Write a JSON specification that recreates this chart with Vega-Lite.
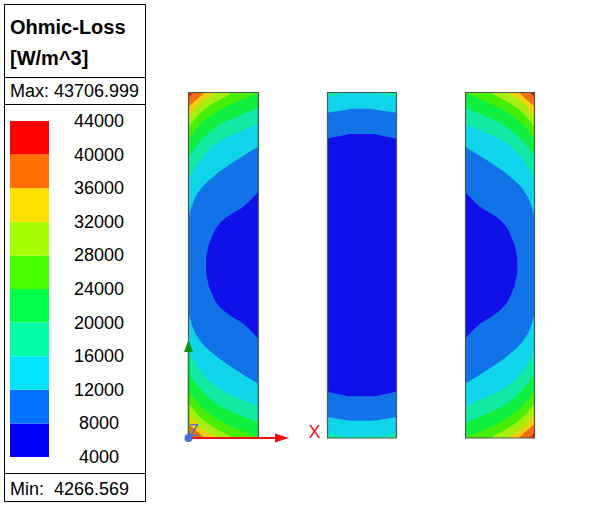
{
  "$schema": "https://vega.github.io/schema/vega-lite/v6.json",
  "width": 590,
  "height": 512,
  "padding": 0,
  "autosize": {"type": "fit", "contains": "padding"},
  "background": "white",
  "config": {"view": {"stroke": null}},
  "datasets": {
    "rods": [
      {"rod": "left", "level": "40000", "x": 188.5, "y": 92.3, "y2": 438.1},
      {"rod": "left", "level": "40000", "x": 258.3, "y": 92.3, "y2": 438.1},
      {"rod": "left", "level": "36000", "x": 188.5, "y": 98.3, "y2": 432.1},
      {"rod": "left", "level": "36000", "x": 195, "y": 92.3, "y2": 438.1},
      {"rod": "left", "level": "36000", "x": 258.3, "y": 92.3, "y2": 438.1},
      {"rod": "left", "level": "32000", "x": 188.5, "y": 106.7, "y2": 423.7},
      {"rod": "left", "level": "32000", "x": 197, "y": 99.5, "y2": 430.9},
      {"rod": "left", "level": "32000", "x": 206.7, "y": 92.3, "y2": 438.1},
      {"rod": "left", "level": "32000", "x": 258.3, "y": 92.3, "y2": 438.1},
      {"rod": "left", "level": "28000", "x": 188.5, "y": 116.7, "y2": 413.7},
      {"rod": "left", "level": "28000", "x": 200, "y": 103.3, "y2": 427.1},
      {"rod": "left", "level": "28000", "x": 209, "y": 97, "y2": 433.4},
      {"rod": "left", "level": "28000", "x": 219.3, "y": 92.3, "y2": 438.1},
      {"rod": "left", "level": "28000", "x": 258.3, "y": 92.3, "y2": 438.1},
      {"rod": "left", "level": "24000", "x": 188.5, "y": 127.3, "y2": 403.1},
      {"rod": "left", "level": "24000", "x": 200, "y": 113.3, "y2": 417.1},
      {"rod": "left", "level": "24000", "x": 213.3, "y": 103.3, "y2": 427.1},
      {"rod": "left", "level": "24000", "x": 225, "y": 97, "y2": 433.4},
      {"rod": "left", "level": "24000", "x": 236, "y": 92.3, "y2": 438.1},
      {"rod": "left", "level": "24000", "x": 258.3, "y": 92.3, "y2": 438.1},
      {"rod": "left", "level": "20000", "x": 188.5, "y": 140, "y2": 390.4},
      {"rod": "left", "level": "20000", "x": 200, "y": 125, "y2": 405.4},
      {"rod": "left", "level": "20000", "x": 216.7, "y": 111.7, "y2": 418.7},
      {"rod": "left", "level": "20000", "x": 236.7, "y": 101.7, "y2": 428.7},
      {"rod": "left", "level": "20000", "x": 258.3, "y": 93.3, "y2": 437.1},
      {"rod": "left", "level": "16000", "x": 188.5, "y": 156.7, "y2": 373.7},
      {"rod": "left", "level": "16000", "x": 200, "y": 141.7, "y2": 388.7},
      {"rod": "left", "level": "16000", "x": 216.7, "y": 126.7, "y2": 403.7},
      {"rod": "left", "level": "16000", "x": 236.7, "y": 116.7, "y2": 413.7},
      {"rod": "left", "level": "16000", "x": 258.3, "y": 107.7, "y2": 422.7},
      {"rod": "left", "level": "12000", "x": 188.5, "y": 179, "y2": 351.4},
      {"rod": "left", "level": "12000", "x": 200, "y": 160, "y2": 370.4},
      {"rod": "left", "level": "12000", "x": 216.7, "y": 143.3, "y2": 387.1},
      {"rod": "left", "level": "12000", "x": 236.7, "y": 133.3, "y2": 397.1},
      {"rod": "left", "level": "12000", "x": 258.3, "y": 124, "y2": 406.4},
      {"rod": "left", "level": "8000", "x": 188.5, "y": 217.3, "y2": 313.1},
      {"rod": "left", "level": "8000", "x": 193.3, "y": 201.7, "y2": 328.7},
      {"rod": "left", "level": "8000", "x": 200, "y": 190, "y2": 340.4},
      {"rod": "left", "level": "8000", "x": 213.3, "y": 176.7, "y2": 353.7},
      {"rod": "left", "level": "8000", "x": 236.7, "y": 160, "y2": 370.4},
      {"rod": "left", "level": "8000", "x": 258.3, "y": 146.7, "y2": 383.7},
      {"rod": "left", "level": "4000", "x": 206, "y": 265.2, "y2": 265.2},
      {"rod": "left", "level": "4000", "x": 206.1, "y": 258, "y2": 272.4},
      {"rod": "left", "level": "4000", "x": 207.3, "y": 251.7, "y2": 278.7},
      {"rod": "left", "level": "4000", "x": 208.7, "y": 245, "y2": 285.4},
      {"rod": "left", "level": "4000", "x": 210.7, "y": 240, "y2": 290.4},
      {"rod": "left", "level": "4000", "x": 215, "y": 230, "y2": 300.4},
      {"rod": "left", "level": "4000", "x": 220, "y": 223.3, "y2": 307.1},
      {"rod": "left", "level": "4000", "x": 230, "y": 215, "y2": 315.4},
      {"rod": "left", "level": "4000", "x": 243.3, "y": 206.7, "y2": 323.7},
      {"rod": "left", "level": "4000", "x": 258.3, "y": 191.7, "y2": 338.7},

      {"rod": "middle", "level": "16000", "x": 327.3, "y": 92.3, "y2": 438.1},
      {"rod": "middle", "level": "16000", "x": 396.3, "y": 92.3, "y2": 438.1},
      {"rod": "middle", "level": "12000", "x": 327.3, "y": 97.5, "y2": 432.9},
      {"rod": "middle", "level": "12000", "x": 335, "y": 95, "y2": 435},
      {"rod": "middle", "level": "12000", "x": 345, "y": 93.2, "y2": 436.5},
      {"rod": "middle", "level": "12000", "x": 378, "y": 93.2, "y2": 436.5},
      {"rod": "middle", "level": "12000", "x": 388, "y": 95, "y2": 435},
      {"rod": "middle", "level": "12000", "x": 396.3, "y": 97.5, "y2": 432.9},
      {"rod": "middle", "level": "8000", "x": 327.3, "y": 112.7, "y2": 417},
      {"rod": "middle", "level": "8000", "x": 335, "y": 111.5, "y2": 418.5},
      {"rod": "middle", "level": "8000", "x": 345, "y": 110, "y2": 420},
      {"rod": "middle", "level": "8000", "x": 352, "y": 108.7, "y2": 420.8},
      {"rod": "middle", "level": "8000", "x": 371, "y": 108.7, "y2": 420.8},
      {"rod": "middle", "level": "8000", "x": 378, "y": 110, "y2": 420},
      {"rod": "middle", "level": "8000", "x": 388, "y": 111.5, "y2": 418.5},
      {"rod": "middle", "level": "8000", "x": 396.3, "y": 112.7, "y2": 417},
      {"rod": "middle", "level": "4000", "x": 327.3, "y": 139, "y2": 391.5},
      {"rod": "middle", "level": "4000", "x": 333, "y": 137.3, "y2": 393},
      {"rod": "middle", "level": "4000", "x": 342, "y": 135.7, "y2": 394.7},
      {"rod": "middle", "level": "4000", "x": 350, "y": 134, "y2": 396.3},
      {"rod": "middle", "level": "4000", "x": 373, "y": 134, "y2": 396.3},
      {"rod": "middle", "level": "4000", "x": 382, "y": 135.7, "y2": 394.7},
      {"rod": "middle", "level": "4000", "x": 390, "y": 137.3, "y2": 393},
      {"rod": "middle", "level": "4000", "x": 396.3, "y": 139, "y2": 391.5},

      {"rod": "right", "level": "40000", "x": 534.8, "y": 92.3, "y2": 438.1},
      {"rod": "right", "level": "40000", "x": 465, "y": 92.3, "y2": 438.1},
      {"rod": "right", "level": "36000", "x": 534.8, "y": 98.3, "y2": 432.1},
      {"rod": "right", "level": "36000", "x": 528.3, "y": 92.3, "y2": 438.1},
      {"rod": "right", "level": "36000", "x": 465, "y": 92.3, "y2": 438.1},
      {"rod": "right", "level": "32000", "x": 534.8, "y": 106.7, "y2": 423.7},
      {"rod": "right", "level": "32000", "x": 526.3, "y": 99.5, "y2": 430.9},
      {"rod": "right", "level": "32000", "x": 516.6, "y": 92.3, "y2": 438.1},
      {"rod": "right", "level": "32000", "x": 465, "y": 92.3, "y2": 438.1},
      {"rod": "right", "level": "28000", "x": 534.8, "y": 116.7, "y2": 413.7},
      {"rod": "right", "level": "28000", "x": 523.3, "y": 103.3, "y2": 427.1},
      {"rod": "right", "level": "28000", "x": 514.3, "y": 97, "y2": 433.4},
      {"rod": "right", "level": "28000", "x": 504, "y": 92.3, "y2": 438.1},
      {"rod": "right", "level": "28000", "x": 465, "y": 92.3, "y2": 438.1},
      {"rod": "right", "level": "24000", "x": 534.8, "y": 127.3, "y2": 403.1},
      {"rod": "right", "level": "24000", "x": 523.3, "y": 113.3, "y2": 417.1},
      {"rod": "right", "level": "24000", "x": 510, "y": 103.3, "y2": 427.1},
      {"rod": "right", "level": "24000", "x": 498.3, "y": 97, "y2": 433.4},
      {"rod": "right", "level": "24000", "x": 487.3, "y": 92.3, "y2": 438.1},
      {"rod": "right", "level": "24000", "x": 465, "y": 92.3, "y2": 438.1},
      {"rod": "right", "level": "20000", "x": 534.8, "y": 140, "y2": 390.4},
      {"rod": "right", "level": "20000", "x": 523.3, "y": 125, "y2": 405.4},
      {"rod": "right", "level": "20000", "x": 506.6, "y": 111.7, "y2": 418.7},
      {"rod": "right", "level": "20000", "x": 486.6, "y": 101.7, "y2": 428.7},
      {"rod": "right", "level": "20000", "x": 465, "y": 93.3, "y2": 437.1},
      {"rod": "right", "level": "16000", "x": 534.8, "y": 156.7, "y2": 373.7},
      {"rod": "right", "level": "16000", "x": 523.3, "y": 141.7, "y2": 388.7},
      {"rod": "right", "level": "16000", "x": 506.6, "y": 126.7, "y2": 403.7},
      {"rod": "right", "level": "16000", "x": 486.6, "y": 116.7, "y2": 413.7},
      {"rod": "right", "level": "16000", "x": 465, "y": 107.7, "y2": 422.7},
      {"rod": "right", "level": "12000", "x": 534.8, "y": 179, "y2": 351.4},
      {"rod": "right", "level": "12000", "x": 523.3, "y": 160, "y2": 370.4},
      {"rod": "right", "level": "12000", "x": 506.6, "y": 143.3, "y2": 387.1},
      {"rod": "right", "level": "12000", "x": 486.6, "y": 133.3, "y2": 397.1},
      {"rod": "right", "level": "12000", "x": 465, "y": 124, "y2": 406.4},
      {"rod": "right", "level": "8000", "x": 534.8, "y": 217.3, "y2": 313.1},
      {"rod": "right", "level": "8000", "x": 530, "y": 201.7, "y2": 328.7},
      {"rod": "right", "level": "8000", "x": 523.3, "y": 190, "y2": 340.4},
      {"rod": "right", "level": "8000", "x": 510, "y": 176.7, "y2": 353.7},
      {"rod": "right", "level": "8000", "x": 486.6, "y": 160, "y2": 370.4},
      {"rod": "right", "level": "8000", "x": 465, "y": 146.7, "y2": 383.7},
      {"rod": "right", "level": "4000", "x": 517.3, "y": 265.2, "y2": 265.2},
      {"rod": "right", "level": "4000", "x": 517.2, "y": 258, "y2": 272.4},
      {"rod": "right", "level": "4000", "x": 516, "y": 251.7, "y2": 278.7},
      {"rod": "right", "level": "4000", "x": 514.6, "y": 245, "y2": 285.4},
      {"rod": "right", "level": "4000", "x": 512.6, "y": 240, "y2": 290.4},
      {"rod": "right", "level": "4000", "x": 508.3, "y": 230, "y2": 300.4},
      {"rod": "right", "level": "4000", "x": 503.3, "y": 223.3, "y2": 307.1},
      {"rod": "right", "level": "4000", "x": 493.3, "y": 215, "y2": 315.4},
      {"rod": "right", "level": "4000", "x": 480, "y": 206.7, "y2": 323.7},
      {"rod": "right", "level": "4000", "x": 465, "y": 191.7, "y2": 338.7}
    ],
    "frames": [
      {"x": 188.5, "x2": 258.3, "y": 92.5, "y2": 438},
      {"x": 327.5, "x2": 396.5, "y": 92.5, "y2": 438},
      {"x": 465.5, "x2": 534.5, "y": 92.5, "y2": 438}
    ],
    "legendBands": [
      {"level": "4000", "low": 4000, "high": 8000},
      {"level": "8000", "low": 8000, "high": 12000},
      {"level": "12000", "low": 12000, "high": 16000},
      {"level": "16000", "low": 16000, "high": 20000},
      {"level": "20000", "low": 20000, "high": 24000},
      {"level": "24000", "low": 24000, "high": 28000},
      {"level": "28000", "low": 28000, "high": 32000},
      {"level": "32000", "low": 32000, "high": 36000},
      {"level": "36000", "low": 36000, "high": 40000},
      {"level": "40000", "low": 40000, "high": 44000}
    ],
    "legendLabels": [
      {"value": 4000}, {"value": 8000}, {"value": 12000}, {"value": 16000},
      {"value": 20000}, {"value": 24000}, {"value": 28000}, {"value": 32000},
      {"value": 36000}, {"value": 40000}, {"value": 44000}
    ]
  },
  "encoding": {
    "x": {"field": "x", "type": "quantitative", "axis": null, "scale": {"domain": [0, 590], "nice": false, "zero": false}},
    "y": {"field": "y", "type": "quantitative", "axis": null, "scale": {"domain": [512, 0], "nice": false, "zero": false}}
  },
  "layer": [
    {
      "data": {"name": "rods"},
      "mark": {"type": "area", "interpolate": "monotone", "stroke": null},
      "encoding": {
        "y2": {"field": "y2"},
        "detail": {"field": "rod"},
        "color": {
          "field": "level",
          "type": "nominal",
          "legend": null,
          "scale": {
            "domain": ["4000", "8000", "12000", "16000", "20000", "24000", "28000", "32000", "36000", "40000"],
            "range": ["#1010e8", "#1272e8", "#10d5ea", "#10eaa2", "#10ee40", "#46ee08", "#a6ee10", "#eed010", "#ee7010", "#ee1010"]
          }
        }
      }
    },
    {
      "data": {"name": "frames"},
      "mark": {"type": "rect", "fill": null, "stroke": "#4a5a50", "strokeWidth": 1.2},
      "encoding": {"x2": {"field": "x2"}, "y2": {"field": "y2"}}
    },
    {
      "data": {"values": [{"x": 188.5, "y": 438, "y2": 350}]},
      "mark": {"type": "rule", "color": "#0b930b", "strokeWidth": 1.4},
      "encoding": {"y2": {"field": "y2"}}
    },
    {
      "data": {"values": [{"x": 188.5, "y": 346}]},
      "mark": {"type": "point", "shape": "M -0.75 1 L 0 -1 L 0.75 1 Z", "filled": true, "color": "#0b930b", "size": 144, "opacity": 1}
    },
    {
      "data": {"values": [{"x": 189, "x2": 278, "y": 438}]},
      "mark": {"type": "rule", "color": "#f01010", "strokeWidth": 2},
      "encoding": {"x2": {"field": "x2"}}
    },
    {
      "data": {"values": [{"x": 282, "y": 438}]},
      "mark": {"type": "point", "shape": "M -1 -0.65 L 1 0 L -1 0.65 Z", "filled": true, "color": "#f01010", "size": 196, "opacity": 1}
    },
    {
      "data": {"values": [{"x": 188.5, "y": 438}]},
      "mark": {"type": "circle", "color": "#4a6ee0", "size": 64, "opacity": 1}
    },
    {
      "data": {"values": [{"x": 189, "y": 436, "text": "Z"}]},
      "mark": {"type": "text", "align": "left", "baseline": "alphabetic", "font": "Liberation Sans", "fontSize": 16, "color": "#4a6ee0"},
      "encoding": {"text": {"field": "text"}}
    },
    {
      "data": {"values": [{"x": 308.5, "y": 438, "text": "X"}]},
      "mark": {"type": "text", "align": "left", "baseline": "alphabetic", "font": "Liberation Sans", "fontSize": 18, "color": "#f01010"},
      "encoding": {"text": {"field": "text"}}
    },
    {
      "data": {"values": [{"x": 4.5, "x2": 145.5, "y": 4.5, "y2": 501.5}]},
      "mark": {"type": "rect", "fill": null, "stroke": "black", "strokeWidth": 1},
      "encoding": {"x2": {"field": "x2"}, "y2": {"field": "y2"}}
    },
    {
      "data": {"values": [{"x": 4.5, "x2": 145.5, "y": 77.5}, {"x": 4.5, "x2": 145.5, "y": 104.5}, {"x": 4.5, "x2": 145.5, "y": 473.5}]},
      "mark": {"type": "rule", "color": "black", "strokeWidth": 1},
      "encoding": {"x2": {"field": "x2"}}
    },
    {
      "data": {"values": [{"x": 10, "y": 34, "text": "Ohmic-Loss"}, {"x": 10, "y": 65, "text": "[W/m^3]"}]},
      "mark": {"type": "text", "align": "left", "baseline": "alphabetic", "font": "Liberation Sans", "fontWeight": "bold", "fontSize": 20, "color": "black"},
      "encoding": {"text": {"field": "text"}}
    },
    {
      "data": {"values": [{"x": 10, "y": 97, "text": "Max: 43706.999"}, {"x": 10, "y": 495, "text": "Min:\u00a0 4266.569"}]},
      "mark": {"type": "text", "align": "left", "baseline": "alphabetic", "font": "Liberation Sans", "fontSize": 18, "color": "black"},
      "encoding": {"text": {"field": "text"}}
    },
    {
      "data": {"name": "legendBands"},
      "transform": [{"calculate": "10", "as": "x"}, {"calculate": "49", "as": "x2"}],
      "mark": {"type": "rect"},
      "encoding": {
        "x2": {"field": "x2"},
        "y": {"field": "low", "type": "quantitative", "axis": null, "scale": {"domain": [-2547.6, 58404.76], "nice": false, "zero": false}},
        "y2": {"field": "high"},
        "color": {
          "field": "level",
          "type": "nominal",
          "legend": null,
          "scale": {
            "domain": ["4000", "8000", "12000", "16000", "20000", "24000", "28000", "32000", "36000", "40000"],
            "range": ["#0000ff", "#0072ff", "#00e4ff", "#00ffa8", "#00ff48", "#48ff00", "#a8ff00", "#ffe000", "#ff7000", "#ff0000"]
          }
        }
      }
    },
    {
      "data": {"name": "legendLabels"},
      "transform": [{"calculate": "99", "as": "x"}],
      "mark": {"type": "text", "align": "center", "baseline": "middle", "dy": 1, "font": "Liberation Sans", "fontSize": 18, "color": "black"},
      "encoding": {
        "y": {"field": "value", "type": "quantitative", "axis": null, "scale": {"domain": [-2547.6, 58404.76], "nice": false, "zero": false}},
        "text": {"field": "value", "type": "nominal"}
      }
    }
  ],
  "resolve": {"scale": {"y": "independent", "color": "independent"}}
}
